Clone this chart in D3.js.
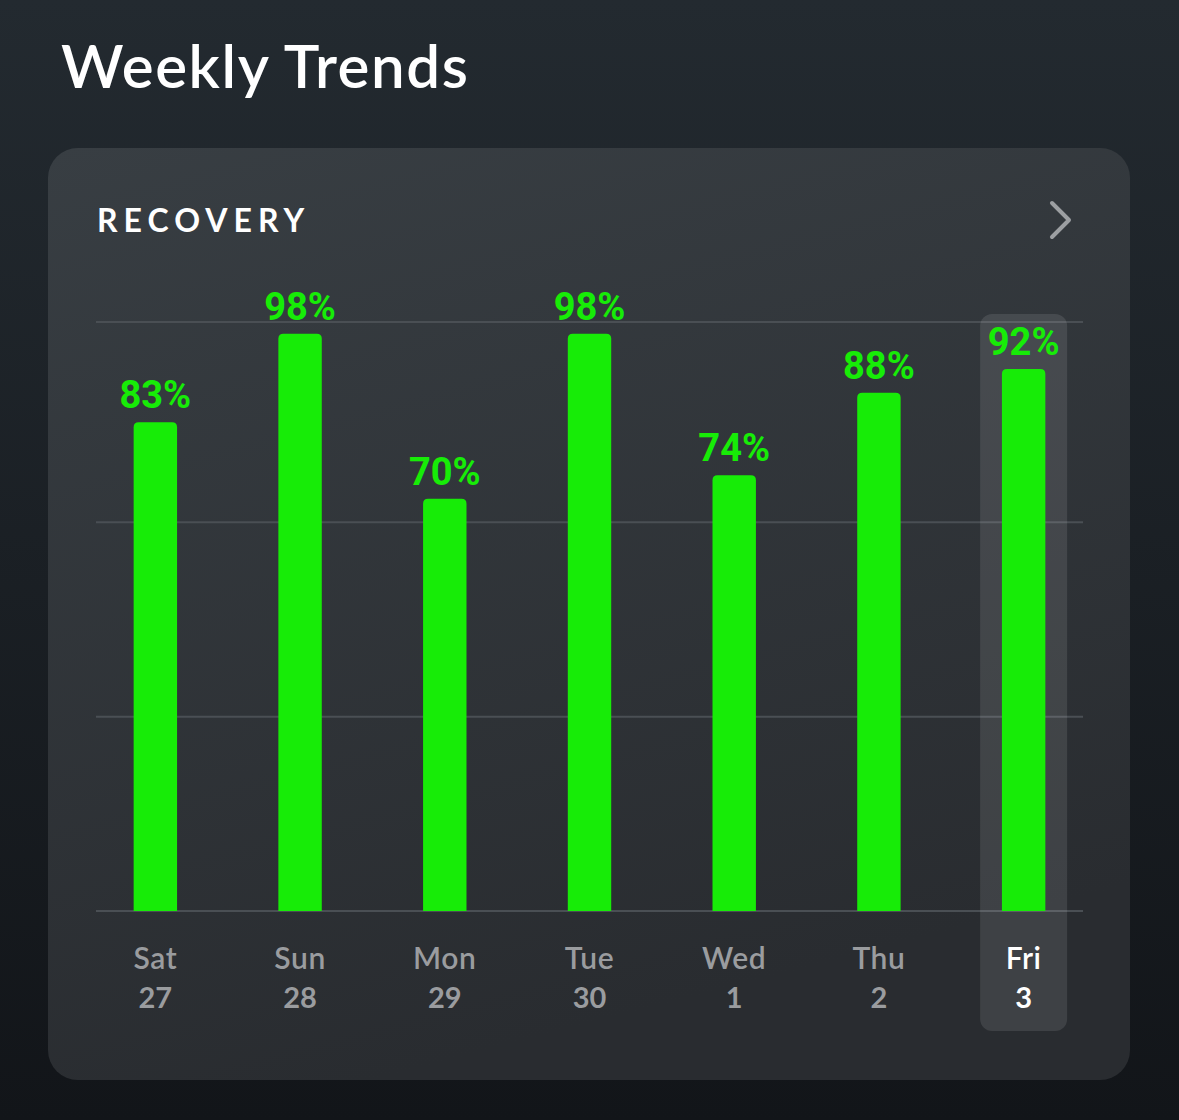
<!DOCTYPE html>
<html>
<head>
<meta charset="utf-8">
<script src="https://cdn.jsdelivr.net/npm/d3@7"></script>
<style>
  html, body { margin: 0; padding: 0; background: #171b1f; }
  svg { display: block; }
</style>
</head>
<body>
<div id="chart"></div>
<script>
// data
const days = ['Sat', 'Sun', 'Mon', 'Tue', 'Wed', 'Thu', 'Fri'];
const dates = ['27', '28', '29', '30', '1', '2', '3'];
const recovery = [83, 98, 70, 98, 74, 88, 92];
const gridTicks = [0, 33, 66, 100];
const selectedDay = 'Fri';

const W = 1179, H = 1120;
const green = '#17ec07';

const svg = d3.select('#chart').append('svg')
  .attr('width', W)
  .attr('height', H);

const defs = svg.append('defs');

const pageGrad = defs.append('linearGradient')
  .attr('id', 'pageGrad').attr('x1', 0).attr('y1', 0).attr('x2', 0).attr('y2', 1);
pageGrad.append('stop').attr('offset', '0%').attr('stop-color', '#232a30');
pageGrad.append('stop').attr('offset', '100%').attr('stop-color', '#121519');

const cardGrad = defs.append('linearGradient')
  .attr('id', 'cardGrad').attr('x1', 0).attr('y1', 0).attr('x2', 0.3).attr('y2', 1);
cardGrad.append('stop').attr('offset', '0%').attr('stop-color', '#383e43');
cardGrad.append('stop').attr('offset', '100%').attr('stop-color', '#292c30');

svg.append('rect')
  .attr('width', W).attr('height', H)
  .attr('fill', 'url(#pageGrad)');

// title
svg.append('text')
  .attr('x', 61).attr('y', 88)
  .attr('fill', '#ffffff')
  .style('font-family', 'Lato, sans-serif')
  .style('font-weight', 600)
  .style('font-size', '60px')
  .style('letter-spacing', '1.6px')
  .text('Weekly Trends');

// card
svg.append('rect')
  .attr('x', 48).attr('y', 148)
  .attr('width', 1082).attr('height', 932)
  .attr('rx', 30)
  .attr('fill', 'url(#cardGrad)');

svg.append('text')
  .attr('x', 97).attr('y', 232)
  .attr('fill', '#ffffff')
  .style('font-family', 'Lato, sans-serif')
  .style('font-weight', 700)
  .style('font-size', '32px')
  .style('letter-spacing', '6px')
  .text('RECOVERY');

// chevron
svg.append('path')
  .attr('d', 'M1052,203 L1069,220 L1052,237')
  .attr('fill', 'none')
  .attr('stroke', '#9c9fa2')
  .attr('stroke-width', 4)
  .attr('stroke-linecap', 'round')
  .attr('stroke-linejoin', 'round');

// scales
const x = d3.scaleBand()
  .domain(days)
  .range([83, 1096])
  .paddingInner(0.7)
  .paddingOuter(0.35);

const y = d3.scaleLinear()
  .domain([0, 100])
  .range([911, 322]);

// gridlines
svg.append('g')
  .selectAll('line')
  .data(gridTicks)
  .join('line')
  .attr('x1', 96).attr('x2', 1083)
  .attr('y1', d => y(d)).attr('y2', d => y(d))
  .attr('stroke', '#4a4f54')
  .attr('stroke-width', 2);

// selected day highlight
const cx = d => x(d) + x.bandwidth() / 2;
svg.append('rect')
  .attr('x', cx(selectedDay) - 43.5)
  .attr('y', 314)
  .attr('width', 87)
  .attr('height', 717)
  .attr('rx', 12)
  .attr('fill', '#ffffff')
  .attr('fill-opacity', 0.1);

// bars with rounded top
const r = 5;
function barPath(d, i) {
  const x0 = x(days[i]), x1 = x0 + x.bandwidth();
  const y0 = y(0), y1 = y(d);
  return `M${x0},${y0} L${x0},${y1 + r} Q${x0},${y1} ${x0 + r},${y1} ` +
    `L${x1 - r},${y1} Q${x1},${y1} ${x1},${y1 + r} L${x1},${y0} Z`;
}

svg.append('g')
  .selectAll('path')
  .data(recovery)
  .join('path')
  .attr('d', barPath)
  .attr('fill', green);

// value labels
svg.append('g')
  .selectAll('text')
  .data(recovery)
  .join('text')
  .attr('x', (d, i) => cx(days[i]))
  .attr('y', d => y(d) - 14)
  .attr('text-anchor', 'middle')
  .attr('fill', green)
  .style('font-family', 'Roboto, sans-serif')
  .style('font-weight', 700)
  .style('font-size', '38px')
  .text(d => d + '%');

// day labels
const labels = svg.append('g');
labels.selectAll('text.day')
  .data(days)
  .join('text')
  .attr('class', 'day')
  .attr('x', d => cx(d))
  .attr('y', 969)
  .attr('text-anchor', 'middle')
  .attr('fill', d => d === selectedDay ? '#ffffff' : '#9a9c9f')
  .style('font-family', 'Lato, sans-serif')
  .style('font-weight', 600)
  .style('font-size', '30px')
  .style('letter-spacing', '0.6px')
  .text(d => d);

labels.selectAll('text.date')
  .data(dates)
  .join('text')
  .attr('class', 'date')
  .attr('x', (d, i) => cx(days[i]))
  .attr('y', 1008)
  .attr('text-anchor', 'middle')
  .attr('fill', (d, i) => days[i] === selectedDay ? '#ffffff' : '#9a9c9f')
  .style('font-family', 'Lato, sans-serif')
  .style('font-weight', 700)
  .style('font-size', '29px')
  .text(d => d);
</script>
</body>
</html>
